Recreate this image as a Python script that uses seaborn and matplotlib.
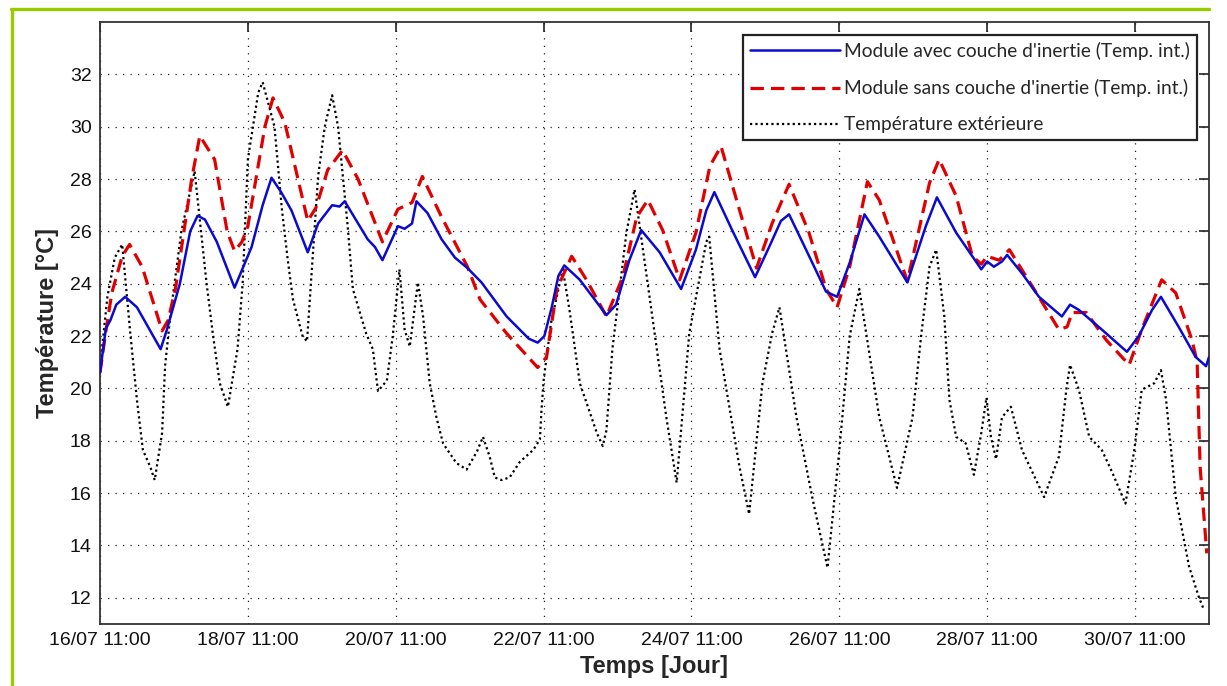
import matplotlib
matplotlib.use("Agg")
import matplotlib.pyplot as plt
from matplotlib.lines import Line2D
import seaborn as sns
import pandas as pd

# ---- data (days since 16/07 11:00, temperature in °C) ----
t_blue = [0.0, 0.08, 0.14, 0.22, 0.34, 0.5, 0.65, 0.82, 0.9, 1.08, 1.22, 1.32, 1.42, 1.58, 1.82,
          2.05, 2.2, 2.32, 2.45, 2.59, 2.81, 2.95, 3.14, 3.24, 3.31, 3.62, 3.72, 3.82, 4.03, 4.12,
          4.22, 4.28, 4.43, 4.62, 4.8, 4.97, 5.16, 5.5, 5.8, 5.92, 6.01, 6.11, 6.2, 6.28, 6.49,
          6.85, 6.98, 7.16, 7.32, 7.57, 7.86, 8.06, 8.2, 8.31, 8.55, 8.86, 9.05, 9.21, 9.32, 9.55,
          9.82, 9.97, 10.14, 10.34, 10.54, 10.92, 11.17, 11.32, 11.58, 11.92, 12.0, 12.09, 12.2,
          12.27, 12.47, 12.7, 13.01, 13.12, 13.24, 13.55, 13.89, 14.05, 14.23, 14.35, 14.59, 14.82,
          14.96, 15.0]
temp_blue = [20.6, 22.3, 22.6, 23.2, 23.5, 23.1, 22.35, 21.5, 22.2, 24.0, 26.0, 26.6, 26.45, 25.6, 23.85,
             25.4, 27.0, 28.05, 27.5, 26.8, 25.2, 26.3, 27.0, 26.95, 27.15, 25.7, 25.4, 24.9, 26.2, 26.1,
             26.3, 27.15, 26.7, 25.7, 25.0, 24.6, 24.05, 22.75, 21.9, 21.75, 22.0, 23.1, 24.3, 24.7, 24.15,
             22.8, 23.2, 24.9, 26.05, 25.2, 23.8, 25.3, 26.8, 27.5, 26.05, 24.25, 25.4, 26.4, 26.65, 25.3,
             23.7, 23.5, 24.8, 26.65, 25.8, 24.05, 26.2, 27.3, 25.95, 24.55, 24.85, 24.65, 24.85,
             25.1, 24.4, 23.5, 22.75, 23.2, 23.0, 22.25, 21.4, 22.0, 23.0, 23.5, 22.35, 21.2,
             20.85, 21.2]

t_red = [0.0, 0.08, 0.16, 0.3, 0.4, 0.57, 0.84, 0.92, 1.02, 1.24, 1.35, 1.55, 1.72, 1.82, 1.92,
         2.0, 2.23, 2.34, 2.5, 2.81, 2.92, 3.08, 3.28, 3.49, 3.82, 4.03, 4.22, 4.36, 4.62, 4.97,
         5.14, 5.5, 5.92, 6.04, 6.18, 6.38, 6.58, 6.85, 7.07, 7.26, 7.41, 7.61, 7.84, 8.06, 8.25,
         8.4, 8.61, 8.88, 9.09, 9.32, 9.59, 9.82, 9.97, 10.14, 10.38, 10.54, 10.92, 11.22, 11.35,
         11.58, 11.8, 11.92, 12.0, 12.16, 12.3, 12.61, 12.97, 13.08, 13.15, 13.34, 13.61, 13.92,
         14.09, 14.36, 14.55, 14.77, 14.84, 14.88, 14.97]
temp_red = [20.6, 22.2, 23.65, 25.05, 25.5, 24.65, 22.2, 22.6, 23.8, 28.0, 29.65, 28.75, 26.0, 25.25, 25.6,
            26.2, 30.0, 31.1, 30.15, 26.4, 26.9, 28.35, 29.1, 28.0, 25.6, 26.85, 27.1, 28.1, 26.55, 24.65,
            23.4, 22.1, 20.8, 21.2, 23.8, 25.05, 24.15, 22.75, 24.25, 26.55, 27.2, 26.05, 24.15, 25.95, 28.5,
            29.25, 27.2, 24.6, 26.3, 27.8, 25.95, 23.8, 23.1, 24.65, 27.9, 27.2, 24.1, 27.85, 28.75,
            27.35, 25.05, 24.75, 25.05, 24.9, 25.3, 23.9, 22.25, 22.35, 22.9, 22.9, 21.85, 20.9,
            22.25, 24.15, 23.65, 21.85, 21.0, 17.0, 13.7]

t_ext = [0.0, 0.1, 0.2, 0.3, 0.41, 0.5, 0.58, 0.68, 0.74, 0.84, 0.88, 0.95, 1.1, 1.28, 1.44, 1.53,
         1.62, 1.73, 1.86, 1.93, 2.0, 2.14, 2.2, 2.36, 2.46, 2.54, 2.61, 2.74, 2.8, 2.95, 3.04, 3.14,
         3.22, 3.35, 3.42, 3.6, 3.69, 3.76, 3.88, 3.96, 4.05, 4.12, 4.19, 4.3, 4.37, 4.46, 4.55, 4.64,
         4.82, 4.96, 5.1, 5.18, 5.27, 5.34, 5.43, 5.54, 5.68, 5.86, 5.95, 5.97, 6.0, 6.1, 6.26, 6.35,
         6.49, 6.72, 6.8, 6.85, 6.93, 7.12, 7.23, 7.47, 7.66, 7.8, 7.97, 8.2, 8.24, 8.38, 8.65, 8.78,
         8.96, 9.09, 9.19, 9.42, 9.64, 9.84, 10.0, 10.14, 10.27, 10.54, 10.78, 10.99, 11.11, 11.22,
         11.31, 11.42, 11.49, 11.58, 11.71, 11.82, 11.92, 11.99, 12.05, 12.12, 12.2, 12.32, 12.47,
         12.77, 12.97, 13.07, 13.12, 13.24, 13.38, 13.55, 13.69, 13.87, 13.99, 14.09, 14.26, 14.35,
         14.42, 14.55, 14.73, 14.86, 14.93]
temp_ext = [20.8, 23.5, 25.0, 25.5, 22.1, 19.55, 17.65, 17.0, 16.5, 18.3, 20.85, 22.75, 26.0, 28.3, 24.05, 22.0,
            20.2, 19.3, 21.5, 24.05, 28.75, 31.3, 31.7, 30.0, 26.85, 24.9, 23.4, 22.0, 21.8, 28.1, 30.0, 31.2,
            30.0, 26.2, 23.8, 22.1, 21.5, 19.9, 20.3, 22.0, 24.55, 22.25, 21.6, 24.05, 22.75, 20.2, 18.9, 17.9,
            17.15, 16.9, 17.6, 18.15, 17.4, 16.6, 16.5, 16.6, 17.2, 17.65, 18.05, 19.1, 20.3, 22.5, 24.55, 23.0,
            20.2, 18.3, 17.8, 18.4, 21.5, 25.95, 27.6, 22.75, 18.9, 16.4, 22.1, 25.6, 25.8, 21.5, 17.0, 15.2,
            20.2, 22.1, 23.1, 18.9, 15.75, 13.15, 17.65, 22.0, 23.8, 18.9, 16.2, 18.9, 22.1, 24.65,
            25.3, 22.75, 19.55, 18.15, 17.9, 16.7, 18.3, 19.65, 18.15, 17.3, 18.9, 19.3, 17.65,
            15.85, 17.4, 19.95, 20.9, 19.95, 18.15, 17.65, 16.8, 15.6, 17.65, 19.95, 20.2, 20.7,
            19.55, 15.85, 13.2, 12.05, 11.55]

x_ticks = [0, 2, 4, 6, 8, 10, 12, 14]
x_labels = ["16/07 11:00", "18/07 11:00", "20/07 11:00", "22/07 11:00",
            "24/07 11:00", "26/07 11:00", "28/07 11:00", "30/07 11:00"]
y_ticks = [12, 14, 16, 18, 20, 22, 24, 26, 28, 30, 32]

labels = ["Module avec couche d'inertie (Temp. int.)",
          "Module sans couche d'inertie (Temp. int.)",
          "Température extérieure"]

# ---- figure ----
sns.set_theme(style="white")
plt.rcParams['font.family'] = ['Liberation Sans', 'DejaVu Sans']

W, H = 1227, 686
fig = plt.figure(figsize=(W / 100, H / 100), dpi=100)
ax = fig.add_axes([100 / W, 1 - 624 / H, (1209 - 100) / W, (624 - 22) / H])

df_b = pd.DataFrame({"t": t_blue, "T": temp_blue})
df_r = pd.DataFrame({"t": t_red, "T": temp_red})
df_e = pd.DataFrame({"t": t_ext, "T": temp_ext})

sns.lineplot(data=df_e, x="t", y="T", ax=ax, color="black", linewidth=1.6,
             linestyle=(0, (1, 1.4)), estimator=None, sort=False, label=labels[2], zorder=2)
sns.lineplot(data=df_r, x="t", y="T", ax=ax, color="#e00000", linewidth=2.3,
             linestyle=(0, (4.2, 2.2)), estimator=None, sort=False, label=labels[1], zorder=3)
sns.lineplot(data=df_b, x="t", y="T", ax=ax, color="#0a0ad0", linewidth=1.8,
             estimator=None, sort=False, label=labels[0], zorder=4)

ax.set_xlim(0, 15)
ax.set_ylim(11, 34)
ax.set_xticks(x_ticks)
ax.set_xticklabels(x_labels)
ax.set_yticks(y_ticks)
ax.set_yticklabels([str(v) for v in y_ticks])

ax.grid(True, linestyle=(0, (1, 5)), color="#222222", linewidth=0.9)
ax.tick_params(axis="both", direction="in", length=7, width=1.2, colors="#222222",
               labelsize=14, labelcolor="#111111", top=True, right=True, pad=6)
for s in ax.spines.values():
    s.set_color("#333333")
    s.set_linewidth(1.3)

ax.set_xlabel("Temps [Jour]", fontsize=17, fontweight="bold", labelpad=4)
ax.set_ylabel("Température [°C]", fontsize=17, fontweight="bold", labelpad=8)

handles, labs = ax.get_legend_handles_labels()
order = [labs.index(l) for l in labels]
leg = ax.legend([handles[i] for i in order], [labs[i] for i in order],
                loc="upper right", bbox_to_anchor=(0.989, 0.978), borderaxespad=0,
                frameon=True, fancybox=False, framealpha=1,
                edgecolor="#222222", handlelength=4.7, handletextpad=0.22,
                labelspacing=1.0, borderpad=0.35,
                prop={'family': ['Lato', 'DejaVu Sans'], 'size': 13.8})
leg.get_frame().set_linewidth(1.6)

# green partial frame
green = "#99cc00"
fig.add_artist(Line2D([11.5 / W, 11.5 / W], [0, 1 - 8.5 / H], transform=fig.transFigure,
                      color=green, linewidth=2.4))
fig.add_artist(Line2D([10.5 / W, 1209 / W], [1 - 8.5 / H, 1 - 8.5 / H], transform=fig.transFigure,
                      color=green, linewidth=2.4))

fig.savefig("out.png", dpi=100)
